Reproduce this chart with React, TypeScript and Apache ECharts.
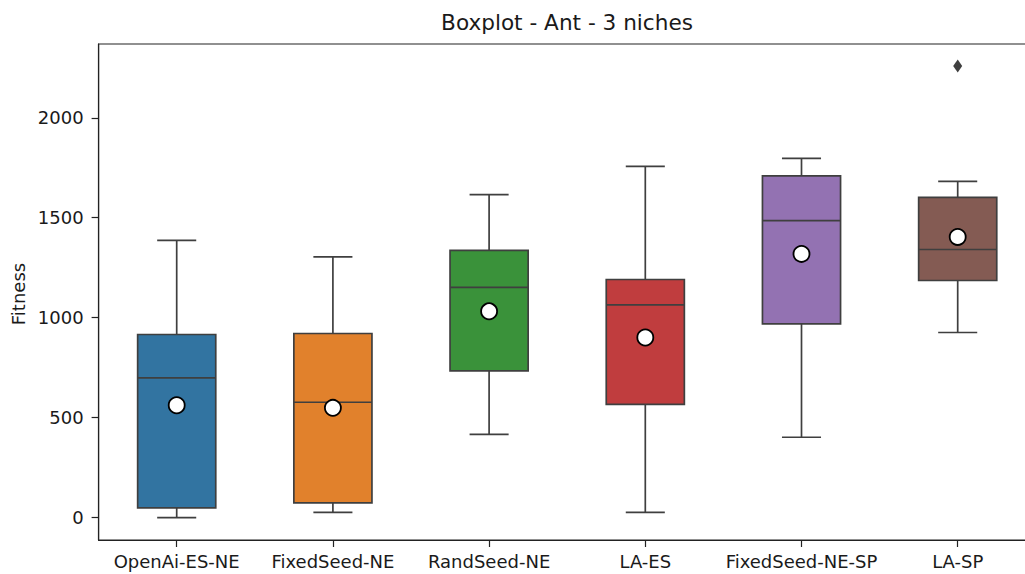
import React, { useEffect, useRef } from "react";
import * as echarts from "echarts";

const categories = ["OpenAi-ES-NE", "FixedSeed-NE", "RandSeed-NE", "LA-ES", "FixedSeed-NE-SP", "LA-SP"];
const whiskerLow = [0, 26, 416, 26, 402, 926];
const q1 = [49, 74, 734, 566, 969, 1186];
const median = [699, 577, 1152, 1064, 1486, 1341];
const q3 = [916, 921, 1337, 1191, 1709, 1602];
const whiskerHigh = [1387, 1304, 1616, 1757, 1797, 1682];
const means = [562, 549, 1032, 901, 1319, 1404];
const outliers: [number, number][] = [[5, 2259]];
const boxColors = ["#3274a1", "#e1812c", "#3a923a", "#c03d3e", "#9372b2", "#845b53"];
const yTicks = [0, 500, 1000, 1500, 2000];

const FONT = "DejaVu Sans";
const EDGE = "#3f3f3f";
const TEXT = "#1a1a1a";
const SPINE = "#222";

export default function App() {
  const ref = useRef<HTMLDivElement>(null);
  useEffect(() => {
    if (!ref.current) return;
    const chart = echarts.init(ref.current, undefined, { renderer: "svg" });
    const boxData = categories.map((_, i) => [i, whiskerLow[i], q1[i], median[i], q3[i], whiskerHigh[i]]);
    chart.setOption({
      animation: false,
      backgroundColor: "#ffffff",
      grid: { left: 98.6, right: 10.2, top: 44, bottom: 34, show: true, borderColor: SPINE, borderWidth: 1.2, backgroundColor: "transparent" },
      graphic: [
        {
          type: "text",
          x: 567,
          y: 22,
          style: { text: "Boxplot - Ant - 3 niches", font: `21.6px '${FONT}'`, fill: TEXT, align: "center", verticalAlign: "middle" },
        },
        {
          type: "text",
          x: 18.5,
          y: 294,
          rotation: Math.PI / 2,
          style: { text: "Fitness", font: `18px '${FONT}'`, fill: TEXT, align: "center", verticalAlign: "middle" },
        },
      ],
      xAxis: {
        type: "category",
        data: categories,
        boundaryGap: true,
        axisLine: { show: true, onZero: false, lineStyle: { color: SPINE, width: 1.2 } },
        axisTick: { show: true, alignWithLabel: true, length: 7, lineStyle: { color: SPINE, width: 1.2 } },
        axisLabel: { fontFamily: FONT, fontSize: 18, color: TEXT, margin: 12, interval: 0 },
        splitLine: { show: false },
      },
      yAxis: {
        type: "value",
        min: -112,
        max: 2369,
        axisLine: { show: true, lineStyle: { color: SPINE, width: 1.2 } },
        axisTick: { show: true, length: 7, customValues: yTicks, lineStyle: { color: SPINE, width: 1.2 } },
        axisLabel: { fontFamily: FONT, fontSize: 18, color: TEXT, margin: 15, customValues: yTicks, formatter: (v: number) => String(v) },
        splitLine: { show: false },
      },
      series: [
        {
          type: "custom",
          data: boxData,
          encode: { x: 0, y: [1, 2, 3, 4, 5] },
          z: 2,
          renderItem: (params: any, api: any) => {
            const idx = api.value(0);
            const lo = api.coord([idx, api.value(1)]);
            const b1 = api.coord([idx, api.value(2)]);
            const md = api.coord([idx, api.value(3)]);
            const b3 = api.coord([idx, api.value(4)]);
            const hi = api.coord([idx, api.value(5)]);
            const band = api.size([1, 0])[0];
            const bw = band * 0.5;
            const cw = bw * 0.5;
            const x = lo[0];
            const lw = 1.7;
            const ls = { stroke: EDGE, lineWidth: lw };
            return {
              type: "group",
              children: [
                { type: "line", shape: { x1: x, y1: b3[1], x2: x, y2: hi[1] }, style: ls },
                { type: "line", shape: { x1: x, y1: b1[1], x2: x, y2: lo[1] }, style: ls },
                { type: "line", shape: { x1: x - cw / 2, y1: hi[1], x2: x + cw / 2, y2: hi[1] }, style: ls },
                { type: "line", shape: { x1: x - cw / 2, y1: lo[1], x2: x + cw / 2, y2: lo[1] }, style: ls },
                {
                  type: "rect",
                  shape: { x: x - bw / 2, y: b3[1], width: bw, height: b1[1] - b3[1] },
                  style: { fill: boxColors[idx], stroke: EDGE, lineWidth: lw },
                },
                { type: "line", shape: { x1: x - bw / 2, y1: md[1], x2: x + bw / 2, y2: md[1] }, style: ls },
              ],
            };
          },
        },
        {
          type: "scatter",
          data: means.map((m, i) => [i, m]),
          symbol: "circle",
          symbolSize: 16,
          z: 5,
          itemStyle: { color: "#ffffff", borderColor: "#000000", borderWidth: 1.8, opacity: 1 },
        },
        {
          type: "scatter",
          data: outliers,
          symbol: "diamond",
          symbolSize: [9, 13],
          z: 5,
          itemStyle: { color: EDGE, opacity: 1 },
        },
      ],
    });
    return () => chart.dispose();
  }, []);
  return (
    <div style={{ position: "fixed", left: 0, top: 0, width: 1025, height: 574, overflow: "hidden", background: "#fff" }}>
      <div ref={ref} style={{ position: "absolute", left: 0, top: 0, width: 1046, height: 574 }} />
    </div>
  );
}
